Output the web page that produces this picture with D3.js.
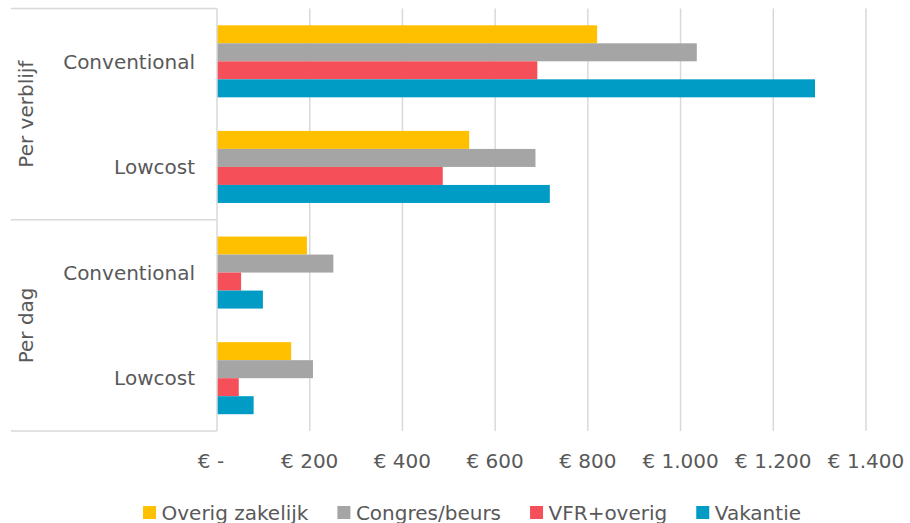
<!DOCTYPE html>
<html>
<head>
<meta charset="utf-8">
<script src="https://cdn.jsdelivr.net/npm/d3@7"></script>
<style>
  body { margin: 0; background: #fff; }
  text { font-family: "DejaVu Sans", sans-serif; fill: #595959; }
</style>
</head>
<body>
<div id="chart"></div>
<script>
// data
const groups = ["Per verblijf", "Per dag"];
const types = ["Conventional", "Lowcost"];
const series = ["Overig zakelijk", "Congres/beurs", "VFR+overig", "Vakantie"];
const colors = ["#FFC000", "#A5A5A5", "#F5505A", "#009CC5"];

// one array per series, order: verblijf-conv, verblijf-low, dag-conv, dag-low
const overigZakelijk = [820, 544, 194, 160];
const congresBeurs = [1035, 687, 251, 207];
const vfrOverig = [691, 487, 52, 47];
const vakantie = [1290, 718, 99, 79];

const xTicks = [0, 200, 400, 600, 800, 1000, 1200, 1400];
const xTickLabels = ["€ -", "€ 200", "€ 400", "€ 600", "€ 800", "€ 1.000", "€ 1.200", "€ 1.400"];

const W = 910, H = 523;
const plot = { left: 217, right: 866, top: 8.5, bottom: 431 };
const axisLeftEdge = 11;
const grid = "#D9D9D9";

const values = [overigZakelijk, congresBeurs, vfrOverig, vakantie];
const rows = [];
groups.forEach((g, gi) => types.forEach((t, ti) => rows.push({ key: g + "|" + t, group: g, type: t, idx: gi * 2 + ti })));

const svg = d3.select("#chart").append("svg")
  .attr("width", W)
  .attr("height", H);

const x = d3.scaleLinear().domain([0, 1400]).range([plot.left, plot.right]);

const y = d3.scaleBand()
  .domain(rows.map(r => r.key))
  .range([plot.top, plot.bottom])
  .paddingInner(0.318)
  .paddingOuter(0.159);

const ys = d3.scaleBand().domain(series).range([0, y.bandwidth()]);

// gridlines
svg.append("g")
  .selectAll("line")
  .data(xTicks.slice(1))
  .join("line")
  .attr("x1", d => x(d)).attr("x2", d => x(d))
  .attr("y1", plot.top).attr("y2", plot.bottom)
  .attr("stroke", grid)
  .attr("stroke-width", 1.5);

// bars
const rowG = svg.append("g")
  .selectAll("g")
  .data(rows)
  .join("g")
  .attr("transform", d => `translate(0, ${y(d.key)})`);

rowG.selectAll("rect")
  .data(r => series.map((s, si) => ({ s, si, v: values[si][r.idx] })))
  .join("rect")
  .attr("x", x(0))
  .attr("y", d => ys(d.s))
  .attr("width", d => x(d.v) - x(0))
  .attr("height", ys.bandwidth())
  .attr("fill", d => colors[d.si]);

// category axis: vertical line + group separators
const axisG = svg.append("g").attr("stroke", grid).attr("stroke-width", 1.5).attr("fill", "none");
axisG.append("line")
  .attr("x1", x(0)).attr("x2", x(0))
  .attr("y1", plot.top).attr("y2", plot.bottom);

const sep = [plot.top, (y(rows[1].key) + y.bandwidth() + y(rows[2].key)) / 2, plot.bottom];
axisG.selectAll("line.sep")
  .data(sep)
  .join("line")
  .attr("class", "sep")
  .attr("x1", axisLeftEdge).attr("x2", x(0))
  .attr("y1", d => d).attr("y2", d => d);

// type labels
svg.append("g")
  .selectAll("text")
  .data(rows)
  .join("text")
  .attr("x", 195)
  .attr("y", d => y(d.key) + y.bandwidth() / 2)
  .attr("dy", "0.36em")
  .attr("text-anchor", "end")
  .attr("font-size", 20)
  .text(d => d.type);

// group labels, rotated
svg.append("g")
  .selectAll("text")
  .data(groups)
  .join("text")
  .attr("transform", (g, gi) => `translate(33, ${(sep[gi] + sep[gi + 1]) / 2}) rotate(-90)`)
  .attr("text-anchor", "middle")
  .attr("font-size", 20)
  .text(d => d);

// x tick labels
svg.append("g")
  .selectAll("text")
  .data(xTicks)
  .join("text")
  .attr("x", d => x(d) + (d === 0 ? -6 : 0))
  .attr("y", 468)
  .attr("text-anchor", "middle")
  .attr("font-size", 20)
  .text((d, i) => xTickLabels[i]);

// legend
const legend = svg.append("g");
let lx = 143;
series.forEach((s, si) => {
  legend.append("rect")
    .attr("x", lx).attr("y", 506)
    .attr("width", 13).attr("height", 13)
    .attr("fill", colors[si]);
  const t = legend.append("text")
    .attr("x", lx + 18.5)
    .attr("y", 519.5)
    .attr("font-size", 20)
    .text(s);
  lx += 18.5 + t.node().getComputedTextLength() + 29;
});
</script>
</body>
</html>
